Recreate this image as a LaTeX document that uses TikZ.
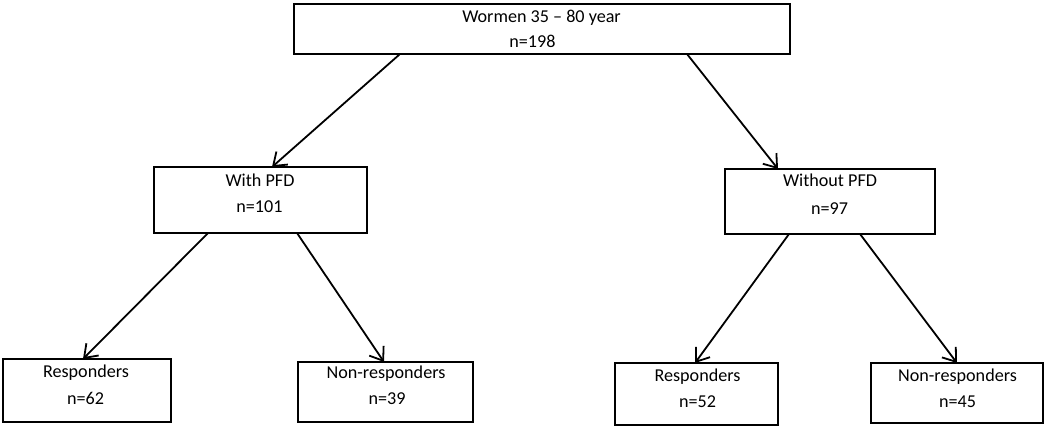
\documentclass[tikz,border=0pt]{standalone}
\usepackage{fontspec}
\setmainfont{Carlito}
\usetikzlibrary{arrows.meta,calc}
\begin{document}
\begin{tikzpicture}[x=0.75pt,y=-0.75pt,
  box/.style={draw=black,line width=2.2pt,inner sep=0pt,outer sep=0pt,fill=white},
  lbl/.style={anchor=base,inner sep=0pt,font=\fontsize{13.6}{16}\selectfont},
  conn/.style={line width=1.35pt,-{Straight Barb[length=9pt,width=13pt,line width=1.35pt]}}]
\useasboundingbox (0,0) rectangle (1045,426);
% boxes
\node[box,minimum width=372pt,minimum height=37.5pt] (top) at (542,29) {};
\node[box,minimum width=159.75pt,minimum height=49.5pt] (pfd) at (260.5,200) {};
\node[box,minimum width=157.5pt,minimum height=48.75pt] (wo) at (830,201.5) {};
\node[box,minimum width=126pt,minimum height=47.25pt] (bl) at (87,390.5) {};
\node[box,minimum width=131.25pt,minimum height=45pt] (bml) at (385.5,392) {};
\node[box,minimum width=122.25pt,minimum height=46.5pt] (bmr) at (696.5,394) {};
\node[box,minimum width=129pt,minimum height=45pt] (br) at (957,393) {};
% texts
\node[lbl] (topA) at (541.5,22) {Wormen 35 – 80 year};
\node[lbl] (topB) at (532.5,47) {n=198};
\node[lbl] (pfdA) at (260,186) {With PFD};
\node[lbl] (pfdB) at (259.5,212) {n=101};
\node[lbl] (woA) at (830,186) {Without PFD};
\node[lbl] (woB) at (829.5,214) {n=97};
\node[lbl] (blA) at (86,377) {Responders};
\node[lbl] (blB) at (85.5,404) {n=62};
\node[lbl] (bmlA) at (386,378) {Non-responders};
\node[lbl] (bmlB) at (387,404) {n=39};
\node[lbl] (bmrA) at (697.5,381) {Responders};
\node[lbl] (bmrB) at (697.5,407) {n=52};
\node[lbl] (brA) at (957.5,381) {Non-responders};
\node[lbl] (brB) at (957.5,407) {n=45};
% connectors
\draw[conn] ($(top.south)+(-142,0)$) -- ($(pfd.north)+(11.5,0)$);
\draw[conn] ($(top.south)+(145,0)$) -- ($(wo.north)+(-52,0)$);
\draw[conn] ($(pfd.south)+(-52.5,0)$) -- ($(bl.north)+(-4,0)$);
\draw[conn] ($(pfd.south)+(36.5,0)$) -- ($(bml.north)+(-1.5,0)$);
\draw[conn] ($(wo.south)+(-41,0)$) -- ($(bmr.north)+(-1.5,0)$);
\draw[conn] ($(wo.south)+(30,0)$) -- ($(br.north)+(0,0)$);
\end{tikzpicture}
\end{document}
